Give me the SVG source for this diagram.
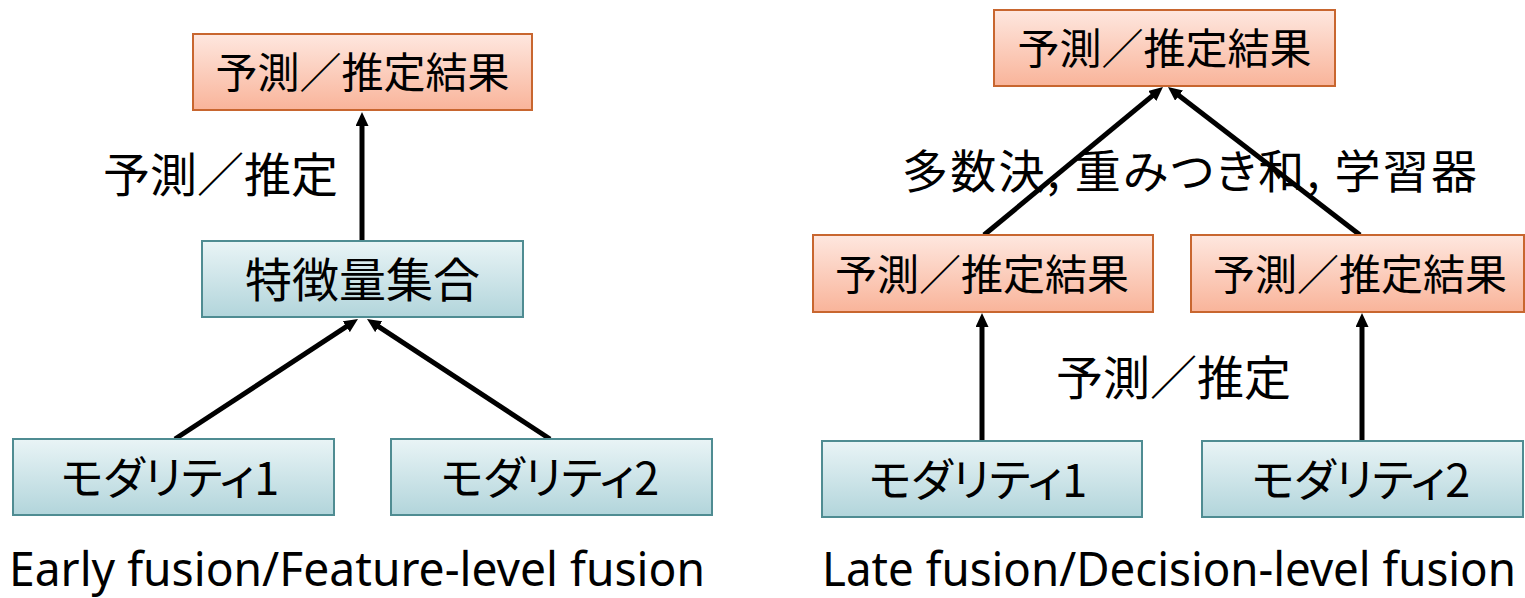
<svg xmlns="http://www.w3.org/2000/svg" width="1525" height="598" viewBox="0 0 1525 598">
  <style>
    .res { fill: url(#gOrange); stroke: #C8662F; stroke-width: 2; }
    .mod { fill: url(#gTeal); stroke: #4F8C92; stroke-width: 2; }
    .jp { font-family: "Noto Sans CJK JP", "Noto Sans", sans-serif; fill: #000; }
    .kana { font-feature-settings: "palt"; }
    .cap { font-family: "Noto Sans", "Open Sans", sans-serif; font-size: 44px; fill: #000; }
    .arrow { stroke: #000; stroke-width: 5; fill: none; marker-end: url(#arr); }
  </style>
  <defs>
    <linearGradient id="gOrange" x1="0" y1="0" x2="0" y2="1">
      <stop offset="0" stop-color="#FEE7DF"/>
      <stop offset="1" stop-color="#F9B49A"/>
    </linearGradient>
    <linearGradient id="gTeal" x1="0" y1="0" x2="0" y2="1">
      <stop offset="0" stop-color="#E9F4F6"/>
      <stop offset="1" stop-color="#B2D5DB"/>
    </linearGradient>
    <marker id="arr" markerUnits="userSpaceOnUse" markerWidth="14" markerHeight="13" refX="6" refY="6.5" orient="auto">
      <path d="M0,0 L14,6.5 L0,13 z" fill="#000"/>
    </marker>
  </defs>

  <rect width="1525" height="598" fill="#fff"/>

  <!-- connectors -->
  <g id="connectors">
    <line class="arrow" x1="362" y1="241" x2="362" y2="120"/>
    <line class="arrow" x1="175" y1="439" x2="351.3" y2="323.4"/>
    <line class="arrow" x1="550" y1="439" x2="373.7" y2="323.4"/>
    <line class="arrow" x1="984" y1="235" x2="1156.8" y2="92.1"/>
    <line class="arrow" x1="1360" y1="235" x2="1174.3" y2="91.9"/>
    <line class="arrow" x1="982" y1="441" x2="982" y2="321"/>
    <line class="arrow" x1="1362" y1="441" x2="1362" y2="321"/>
  </g>

  <!-- early fusion -->
  <g id="early-result">
    <rect class="res" x="193" y="34" width="339" height="76"/>
    <text class="jp" x="362.5" y="88" font-size="42" text-anchor="middle">予測／推定結果</text>
  </g>
  <g id="early-features">
    <rect class="mod" x="202" y="241" width="321" height="76"/>
    <text class="jp" x="362.5" y="297" font-size="47" text-anchor="middle">特徴量集合</text>
  </g>
  <g id="early-modality1">
    <rect class="mod" x="13" y="439" width="321" height="76"/>
    <text class="jp kana" x="170" y="495" font-size="45" text-anchor="middle">モダリティ1</text>
  </g>
  <g id="early-modality2">
    <rect class="mod" x="391" y="439" width="321" height="76"/>
    <text class="jp kana" x="550" y="495" font-size="45" text-anchor="middle">モダリティ2</text>
  </g>
  <g id="early-label">
    <text class="jp" x="220.5" y="192" font-size="47" text-anchor="middle">予測／推定</text>
  </g>
  <g id="early-caption">
    <text class="cap" transform="translate(9 586) scale(1 1.09)" textLength="696" lengthAdjust="spacingAndGlyphs">Early fusion/Feature-level fusion</text>
  </g>

  <!-- late fusion -->
  <g id="late-result">
    <rect class="res" x="994" y="10" width="341" height="76"/>
    <text class="jp" x="1164.5" y="64" font-size="42" text-anchor="middle">予測／推定結果</text>
  </g>
  <g id="late-result1">
    <rect class="res" x="813" y="235" width="340" height="77"/>
    <text class="jp" x="982" y="290" font-size="42" text-anchor="middle">予測／推定結果</text>
  </g>
  <g id="late-result2">
    <rect class="res" x="1191" y="235" width="333" height="77"/>
    <text class="jp" x="1360" y="290" font-size="42" text-anchor="middle">予測／推定結果</text>
  </g>
  <g id="late-modality1">
    <rect class="mod" x="822" y="441" width="320" height="76"/>
    <text class="jp kana" x="978" y="497" font-size="45" text-anchor="middle">モダリティ1</text>
  </g>
  <g id="late-modality2">
    <rect class="mod" x="1202" y="441" width="321" height="76"/>
    <text class="jp kana" x="1361" y="497" font-size="45" text-anchor="middle">モダリティ2</text>
  </g>
  <g id="late-label-combine">
    <text class="jp kana" x="1189.5" y="188" font-size="46" text-anchor="middle" textLength="575" lengthAdjust="spacing">多数決, 重みつき和, 学習器</text>
  </g>
  <g id="late-label-predict">
    <text class="jp" x="1173.5" y="395" font-size="47" text-anchor="middle">予測／推定</text>
  </g>
  <g id="late-caption">
    <text class="cap" transform="translate(822 586) scale(1 1.09)" textLength="694" lengthAdjust="spacingAndGlyphs">Late fusion/Decision-level fusion</text>
  </g>
</svg>
